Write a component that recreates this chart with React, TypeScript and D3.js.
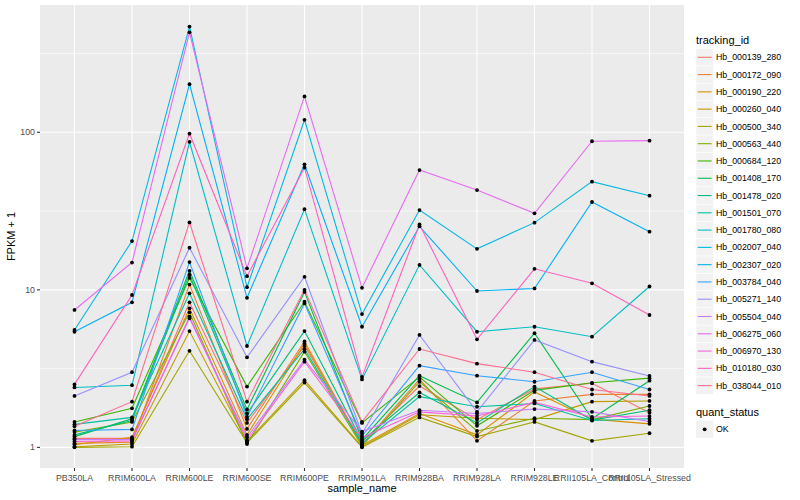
import * as React from 'react';
import * as d3 from 'd3';

// samples on the x axis
const samples = [
  'PB350LA', 'RRIM600LA', 'RRIM600LE', 'RRIM600SE', 'RRIM600PE', 'RRIM901LA',
  'RRIM928BA', 'RRIM928LA', 'RRIM928LE', 'RRII105LA_Control', 'RRII105LA_Stressed',
];

const trackingIds = [
  'Hb_000139_280', 'Hb_000172_090', 'Hb_000190_220', 'Hb_000260_040', 'Hb_000500_340',
  'Hb_000563_440', 'Hb_000684_120', 'Hb_001408_170', 'Hb_001478_020', 'Hb_001501_070',
  'Hb_001780_080', 'Hb_002007_040', 'Hb_002307_020', 'Hb_003784_040', 'Hb_005271_140',
  'Hb_005504_040', 'Hb_006275_060', 'Hb_006970_130', 'Hb_010180_030', 'Hb_038044_010',
];

// FPKM + 1, one row per tracking id, one value per sample
const fpkm: number[][] = [
  [1.14, 1.14, 8.33, 1.43, 4.4, 1.08, 2.45, 1.5, 2.35, 2.55, 1.66],
  [1.06, 1.08, 10.8, 1.31, 4.7, 1.04, 2.7, 1.1, 1.97, 2.17, 2.17],
  [1.04, 1.16, 7.63, 1.2, 4.55, 1.03, 1.64, 1.2, 2.25, 1.51, 1.41],
  [1.01, 1.05, 5.47, 1.09, 2.67, 1.01, 1.61, 1.53, 1.5, 1.95, 1.97],
  [1.0, 1.01, 4.1, 1.07, 2.58, 1.0, 1.55, 1.17, 1.45, 1.1, 1.23],
  [1.25, 1.45, 7.2, 1.05, 4.05, 1.02, 2.61, 1.27, 1.53, 1.5, 1.83],
  [1.45, 1.77, 11.9, 2.43, 8.4, 1.43, 2.8, 1.37, 2.3, 2.57, 2.75],
  [1.17, 1.52, 13.2, 1.74, 9.7, 1.12, 2.85, 1.93, 5.3, 1.52, 2.65],
  [1.2, 1.48, 12.5, 1.64, 5.47, 1.1, 2.23, 1.43, 2.43, 1.49, 1.72],
  [1.4, 1.55, 9.5, 1.51, 4.2, 1.06, 2.1, 1.81, 1.9, 1.48, 1.52],
  [2.4, 2.48, 87, 4.4, 32.5, 2.7, 14.4, 5.42, 5.83, 5.04, 10.5],
  [5.56, 20.4, 469, 10.4, 120, 7.02, 32.1, 18.2, 26.7, 48.6, 39.6],
  [5.42, 8.33, 202, 8.9, 62.6, 5.83, 25.3, 9.83, 10.2, 36.1, 23.4],
  [1.28, 1.3, 15.0, 1.56, 8.2, 1.18, 3.3, 2.85, 2.61, 3.0, 2.33],
  [2.12, 3.0, 18.5, 3.73, 12.1, 1.22, 5.17, 1.68, 4.81, 3.5, 2.84],
  [1.12, 1.12, 6.6, 1.16, 3.6, 1.26, 1.72, 1.64, 1.75, 1.68, 1.46],
  [7.45, 14.9, 431, 13.7, 169, 10.3, 57.6, 43, 30.6, 87.7, 88.5],
  [1.09, 1.1, 6.75, 1.11, 3.5, 1.15, 1.68, 1.58, 1.93, 1.56, 1.58],
  [2.51, 9.27, 98, 12.2, 59.6, 2.8, 26, 4.85, 13.6, 11.0, 6.92],
  [1.36, 1.95, 26.8, 1.95, 10.0, 1.45, 4.21, 3.4, 3.0, 2.33, 2.12],
];

const yTicks = [1, 10, 100];
const yMinor = [Math.pow(10, 0.5), Math.pow(10, 1.5), Math.pow(10, 2.5)];

// ggplot2 default hue palette for 20 levels
const colors = [
  '#F8766D', '#EA8331', '#D89000', '#C09B00', '#A3A500', '#7CAE00', '#39B600', '#00BB4E',
  '#00BF7D', '#00C1A3', '#00BFC4', '#00BAE0', '#00B0F6', '#35A2FF', '#9590FF', '#C77CFF',
  '#E76BF3', '#FA62DB', '#FF62BC', '#FF6C91',
];

const font = '"Liberation Sans", Arial, Helvetica, sans-serif';

const App: React.FC = () => {
  const width = 800;
  const height = 500;
  const panel = { left: 40, right: 684, top: 5, bottom: 468 };

  const x = d3.scalePoint<string>()
    .domain(samples)
    .range([panel.left, panel.right])
    .padding(0.6);

  const y = d3.scaleLog()
    .domain([Math.pow(10, -0.131), Math.pow(10, 2.808)])
    .range([panel.bottom, panel.top]);

  const line = d3.line<number>()
    .x((_, i) => x(samples[i]) ?? 0)
    .y(d => y(d));

  const legendX = 696;
  const keyTop = 57.3;
  const keyStep = 17.28;

  return (
    <svg width={width} height={height} style={{ position: 'absolute', left: 0, top: 0 }} fontFamily={font}>
      <rect width={width} height={height} fill="#fff" />
      <rect x={panel.left} y={panel.top} width={panel.right - panel.left} height={panel.bottom - panel.top} fill="#EBEBEB" />

      {/* grid */}
      {yMinor.map(v => (
        <line key={'mn' + v} x1={panel.left} x2={panel.right} y1={y(v)} y2={y(v)} stroke="#fff" strokeWidth={0.55} />
      ))}
      {yTicks.map(v => (
        <line key={'mj' + v} x1={panel.left} x2={panel.right} y1={y(v)} y2={y(v)} stroke="#fff" strokeWidth={1.1} />
      ))}
      {samples.map(s => (
        <line key={'gx' + s} x1={x(s)} x2={x(s)} y1={panel.top} y2={panel.bottom} stroke="#fff" strokeWidth={1.1} />
      ))}

      {/* lines */}
      {fpkm.map((row, i) => (
        <path key={'l' + i} d={line(row) ?? ''} fill="none" stroke={colors[i]} strokeWidth={1.1} />
      ))}

      {/* points */}
      {fpkm.map((row, i) => row.map((v, j) => (
        <circle key={`p${i}-${j}`} cx={x(samples[j])} cy={y(v)} r={1.9} fill="#000" />
      )))}

      {/* y axis */}
      {yTicks.map(v => (
        <g key={'yt' + v}>
          <line x1={panel.left - 3} x2={panel.left} y1={y(v)} y2={y(v)} stroke="#333" strokeWidth={1.1} />
          <text x={panel.left - 5} y={y(v) + 3} textAnchor="end" fontSize={8.8} fill="#4D4D4D">{v}</text>
        </g>
      ))}
      <text transform={`translate(15,${(panel.top + panel.bottom) / 2}) rotate(-90)`} textAnchor="middle" fontSize={11} fill="#000">FPKM + 1</text>

      {/* x axis */}
      {samples.map(s => (
        <g key={'xt' + s}>
          <line x1={x(s)} x2={x(s)} y1={panel.bottom} y2={panel.bottom + 3} stroke="#333" strokeWidth={1.1} />
          <text x={x(s)} y={panel.bottom + 13} textAnchor="middle" fontSize={8.8} fill="#4D4D4D">{s}</text>
        </g>
      ))}
      <text x={(panel.left + panel.right) / 2} y={492} textAnchor="middle" fontSize={11} fill="#000">sample_name</text>

      {/* legend: tracking_id */}
      <text x={legendX} y={44} fontSize={11} fill="#000">tracking_id</text>
      {trackingIds.map((id, i) => {
        const cy = keyTop + i * keyStep;
        return (
          <g key={'lg' + id}>
            <rect x={legendX} y={cy - keyStep / 2} width={17.3} height={keyStep} fill="#F2F2F2" stroke="#fff" strokeWidth={0.5} />
            <line x1={legendX + 1.7} x2={legendX + 15.6} y1={cy} y2={cy} stroke={colors[i]} strokeWidth={1.1} />
            <text x={legendX + 20} y={cy + 3.1} fontSize={8.8} fill="#000">{id}</text>
          </g>
        );
      })}

      {/* legend: quant_status */}
      <text x={legendX} y={415.5} fontSize={11} fill="#000">quant_status</text>
      <rect x={legendX} y={429.3 - keyStep / 2} width={17.3} height={keyStep} fill="#F2F2F2" />
      <circle cx={legendX + 8.65} cy={429.3} r={1.9} fill="#000" />
      <text x={legendX + 20} y={432.4} fontSize={8.8} fill="#000">OK</text>
    </svg>
  );
};

export default App;
